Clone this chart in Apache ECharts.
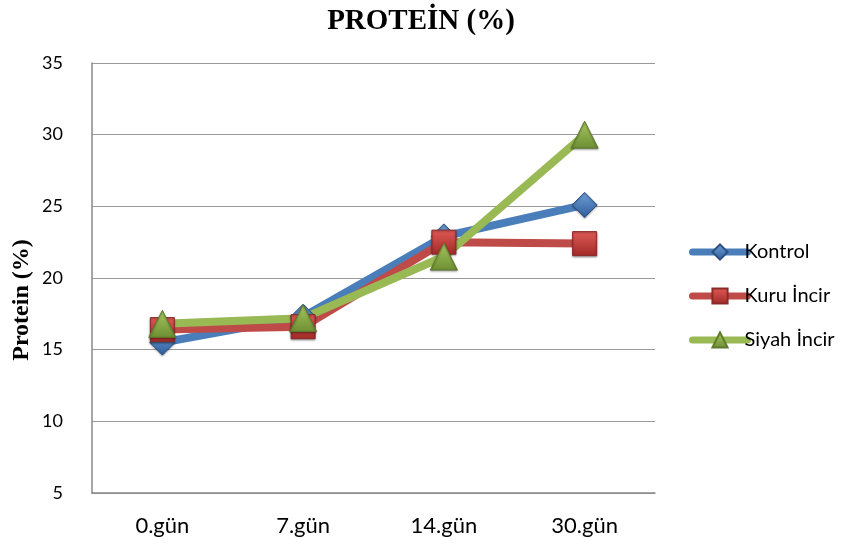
<!DOCTYPE html>
<html>
<head>
<meta charset="utf-8">
<script src="https://cdn.jsdelivr.net/npm/echarts@6/dist/echarts.min.js"></script>
<style>
  html, body { margin: 0; padding: 0; background: #fff; }
  #chart { width: 846px; height: 547px; }
</style>
</head>
<body>
<div id="chart"></div>
<script>
// Sampling days
const categories = ['0.gün', '7.gün', '14.gün', '30.gün'];

// Protein content (%) per group
const kontrol = [15.5, 17.3, 22.9, 25.1];
const kuruIncir = [16.4, 16.6, 22.5, 22.4];
const siyahIncir = [16.8, 17.2, 21.5, 30.0];

// Y-axis range
const yMin = 5;
const yMax = 35;
const yStep = 5;

const labelFont = 'Lato, "Open Sans", sans-serif';
const serifFont = '"Liberation Serif", "Times New Roman", serif';

function grad(top, bottom) {
  return new echarts.graphic.LinearGradient(0, 0, 0, 1, [
    { offset: 0, color: top },
    { offset: 1, color: bottom }
  ]);
}

function makeSeries(name, data, lineColor, symbol, size, fillTop, fillBottom, borderColor) {
  return {
    name: name,
    type: 'line',
    data: data,
    symbol: symbol,
    symbolSize: size,
    lineStyle: { width: 8, color: lineColor, cap: 'round' },
    itemStyle: {
      color: grad(fillTop, fillBottom),
      borderColor: borderColor,
      borderWidth: 1,
      shadowColor: 'rgba(0,0,0,0.35)',
      shadowBlur: 2,
      shadowOffsetY: 1
    },
    emphasis: { disabled: true },
    animation: false
  };
}

const chart = echarts.init(document.getElementById('chart'));
chart.setOption({
  backgroundColor: '#ffffff',
  title: {
    text: 'PROTEİN (%)',
    left: 416,
    textAlign: 'center',
    top: 2,
    textStyle: {
      fontFamily: serifFont,
      fontWeight: 'bold',
      fontSize: 29,
      color: '#000'
    }
  },
  graphic: [{
    type: 'text',
    x: 22,
    y: 300,
    rotation: Math.PI / 2,
    style: {
      text: 'Protein (%)',
      fontFamily: serifFont,
      fontWeight: 'bold',
      fontSize: 24,
      fill: '#000',
      align: 'center',
      verticalAlign: 'middle'
    }
  }],
  grid: { left: 92, right: 191, top: 63, bottom: 54 },
  legend: {
    orient: 'vertical',
    left: 684,
    top: 237,
    itemWidth: 55,
    itemHeight: 19,
    itemGap: 24,
    lineStyle: { width: 7, cap: 'round' },
    textStyle: { fontFamily: labelFont, fontSize: 20, color: '#000', padding: [0, 0, 0, -8] },
    data: ['Kontrol', 'Kuru İncir', 'Siyah İncir']
  },
  xAxis: {
    type: 'category',
    data: categories,
    boundaryGap: true,
    axisLine: { lineStyle: { color: '#888', width: 1.5 } },
    axisTick: { show: false },
    axisLabel: { fontFamily: labelFont, fontSize: 22, color: '#000', margin: 22 }
  },
  yAxis: {
    type: 'value',
    min: yMin,
    max: yMax,
    interval: yStep,
    axisLine: { show: true, lineStyle: { color: '#888', width: 1.5 } },
    axisTick: { show: false },
    splitLine: { lineStyle: { color: '#999', width: 1.2 } },
    axisLabel: { fontFamily: labelFont, fontSize: 18, color: '#000', margin: 29 }
  },
  series: [
    makeSeries('Kontrol', kontrol, '#4a7ebb', 'diamond', 25, '#6f9fd8', '#2e5d9a', '#2c4f80'),
    makeSeries('Kuru İncir', kuruIncir, '#be4b48', 'rect', 24, '#e05a56', '#a02a27', '#8c2a28'),
    makeSeries('Siyah İncir', siyahIncir, '#98b954', 'triangle', 27, '#a8c860', '#6d8e32', '#5e7a2c')
  ]
});
</script>
</body>
</html>
